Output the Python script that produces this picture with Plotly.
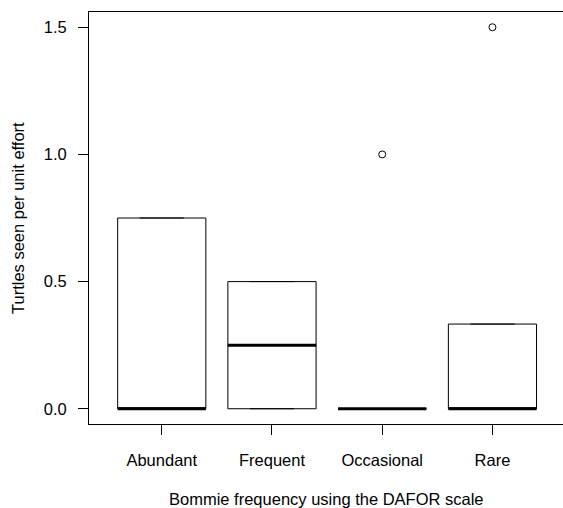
import plotly.graph_objects as go

# Box-plot summary for each bommie frequency class
categories = ["Abundant", "Frequent", "Occasional", "Rare"]
q1 = [0.0, 0.0, 0.0, 0.0]
median = [0.0, 0.25, 0.0, 0.0]
q3 = [0.75, 0.5, 0.0, 0.333]
lower_whisker = [0.0, 0.0, 0.0, 0.0]
upper_whisker = [0.75, 0.5, 0.0, 0.333]

# Points lying beyond the whiskers
outlier_groups = ["Occasional", "Rare"]
outlier_values = [1.0, 1.5]

y_ticks = [0.0, 0.5, 1.0, 1.5]

FONT = "Arial, Liberation Sans, sans-serif"
FONT_SIZE = 16.5
BOX_WIDTH = 0.8
positions = list(range(1, len(categories) + 1))

fig = go.Figure()

for pos, a, m, b, lo, hi in zip(positions, q1, median, q3, lower_whisker, upper_whisker):
    fig.add_trace(go.Box(
        x=[pos], q1=[a], median=[m], q3=[b],
        lowerfence=[lo], upperfence=[hi],
        width=BOX_WIDTH, whiskerwidth=0.5,
        fillcolor="white",
        line=dict(color="black", width=1),
        boxpoints=False, hoverinfo="skip", showlegend=False,
    ))
    # heavy median bar across the full box width
    fig.add_trace(go.Scatter(
        x=[pos - BOX_WIDTH / 2, pos + BOX_WIDTH / 2], y=[m, m],
        mode="lines", line=dict(color="black", width=3),
        hoverinfo="skip", showlegend=False,
    ))

fig.add_trace(go.Scatter(
    x=[categories.index(g) + 1 for g in outlier_groups],
    y=outlier_values,
    mode="markers",
    marker=dict(symbol="circle-open", size=7, color="black", line=dict(width=1)),
    hoverinfo="skip", showlegend=False,
))

fig.update_layout(
    width=563, height=508,
    margin=dict(l=89, r=0, t=12, b=84),
    paper_bgcolor="white", plot_bgcolor="white",
    font=dict(family=FONT, size=FONT_SIZE, color="black"),
    xaxis=dict(
        range=[0.34, 4.64], tickvals=positions, ticktext=categories,
        ticks="outside", ticklen=10, tickwidth=1, tickcolor="black",
        showline=True, linecolor="black", linewidth=1, mirror=True,
        showgrid=False, zeroline=False, ticklabelstandoff=11,
    ),
    yaxis=dict(
        range=[-0.06, 1.56], tickvals=y_ticks, tickformat=".1f",
        ticks="outside", ticklen=10, tickwidth=1, tickcolor="black",
        showline=True, linecolor="black", linewidth=1,
        showgrid=False, zeroline=False, ticklabelstandoff=8,
    ),
    annotations=[
        dict(text="Bommie frequency using the DAFOR scale", xref="paper", yref="paper",
             x=0.5, y=0, xanchor="center", yanchor="middle", yshift=-75,
             showarrow=False, font=dict(family=FONT, size=FONT_SIZE)),
        dict(text="Turtles seen per unit effort", xref="paper", yref="paper",
             x=0, y=0.5, xanchor="center", yanchor="middle", xshift=-71,
             textangle=-90, showarrow=False, font=dict(family=FONT, size=FONT_SIZE)),
    ],
)

fig.write_html("out.html")
